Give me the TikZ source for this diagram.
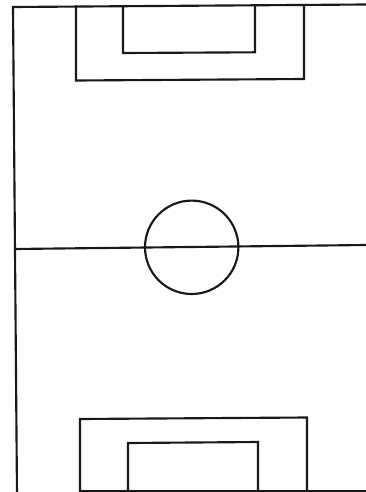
\documentclass[tikz,border=0pt]{standalone}
\begin{document}
\begin{tikzpicture}[x=0.75pt,y=-0.75pt,
  pitchline/.style={line width=1.6pt,black!90,line join=miter}]
\fill[white] (0,0) rectangle (366,492);
\useasboundingbox (0,0) rectangle (366,492);
% touch lines
\draw[pitchline] (366,4.5) -- (13,7) -- (17,495);
% bottom goal line (visible part)
\draw[pitchline] (80,490.8) -- (366,490.8);
% halfway line
\draw[pitchline] (15,249) -- (366,245);
% centre circle
\draw[pitchline] (191.7,247.3) circle (46.7);
% top penalty area
\draw[pitchline] (76,6) -- (76,80.5) -- (304,79) -- (304,5);
% top goal area
\draw[pitchline] (123,6) -- (123,53) -- (255,52.3) -- (255,5);
% bottom penalty area
\draw[pitchline] (80,492) -- (80,419) -- (307,417.5) -- (307,491);
% bottom goal area
\draw[pitchline] (128,492) -- (128,443) -- (258,442) -- (258,491);
\end{tikzpicture}
\end{document}
